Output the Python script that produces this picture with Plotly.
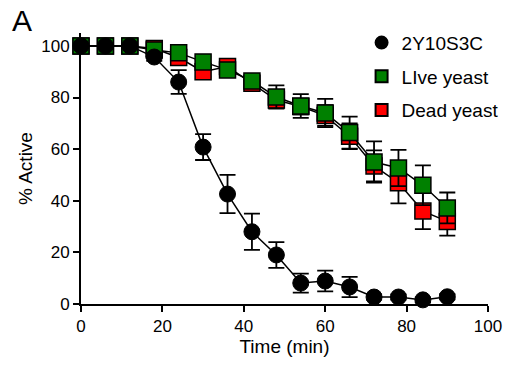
import plotly.graph_objects as go

time = [0, 6, 12, 18, 24, 30, 36, 42, 48, 54, 60, 66, 72, 78, 84, 90]
y_2y = [100, 100, 100, 95.7, 86, 60.8, 42.6, 28, 19, 8.1, 8.9, 6.6, 2.7, 2.7, 1.6, 2.8]
e_2y = [0, 0, 0, 1.5, 4.6, 5, 7.4, 7, 5, 3.7, 4, 3.9, 1, 1, 1, 1]
y_live = [100, 100, 100, 98.4, 97.3, 93.8, 90.7, 86.4, 80.2, 76.7, 74, 66.4, 55, 52.7, 46, 37.2]
e_live = [0, 0, 0, 1, 1.5, 2, 2, 2.5, 4.5, 4.6, 5.5, 6.2, 8, 7, 7.7, 6]
y_dead = [100, 100, 100, 99, 95.5, 90, 92, 85.5, 79, 76.5, 73, 65, 53.5, 47, 36, 32]
e_dead = [0, 0, 0, 1, 1.5, 2, 2, 2, 3, 3, 4, 5, 6, 8, 7, 5.5]
names = ["2Y10S3C", "LIve yeast", "Dead yeast"]

FONT = "Liberation Sans, Arial"
fig = go.Figure()
common_line = dict(color="black", width=1.5)
sq_dead = dict(symbol="square", size=16, color="#ff0000", line=dict(color="black", width=1.5))
sq_live = dict(symbol="square", size=16, color="#008000", line=dict(color="black", width=1.5))
circ = dict(symbol="circle", size=16, color="black", line=dict(color="black", width=1))

fig.add_trace(go.Scatter(
    x=time, y=y_dead, name=names[2], mode="lines+markers", showlegend=False,
    line=common_line, cliponaxis=False, marker=sq_dead,
    error_y=dict(type="data", array=e_dead, color="black", thickness=1.8, width=8)))
fig.add_trace(go.Scatter(
    x=time, y=y_live, name=names[1], mode="lines+markers", showlegend=False,
    line=common_line, cliponaxis=False, marker=sq_live,
    error_y=dict(type="data", array=e_live, color="black", thickness=1.8, width=8)))
fig.add_trace(go.Scatter(
    x=time, y=y_2y, name=names[0], mode="lines+markers", showlegend=False,
    line=common_line, cliponaxis=False, marker=circ,
    error_y=dict(type="data", array=e_2y, color="black", thickness=1.8, width=8)))

# legend entries (markers only)
for nm, mk, rk in [(names[0], circ, 1), (names[1], sq_live, 2), (names[2], sq_dead, 3)]:
    fig.add_trace(go.Scatter(x=[None], y=[None], name=nm, mode="markers", marker=mk,
                             legendrank=rk, legendgroup=nm, showlegend=True))

axis_common = dict(showline=True, linecolor="black", linewidth=2, ticks="outside",
                   ticklen=6, tickwidth=2, tickcolor="black", showgrid=False, zeroline=False,
                   automargin=False,
                   tickfont=dict(family=FONT, size=17, color="black"))
fig.update_xaxes(range=[0, 100], tickvals=[0, 20, 40, 60, 80, 100],
                 title=dict(text="Time (min)", font=dict(family=FONT, size=19, color="black"), standoff=2),
                 **axis_common)
fig.update_yaxes(range=[0, 105], tickvals=[0, 20, 40, 60, 80, 100],
                 title=dict(text="% Active", font=dict(family=FONT, size=19, color="black"), standoff=4),
                 **axis_common)

fig.update_layout(
    width=505, height=365,
    margin=dict(l=81, r=17, t=33, b=61, autoexpand=False),
    plot_bgcolor="white", paper_bgcolor="white",
    font=dict(family=FONT, size=19, color="black"),
    legend=dict(x=0.716, y=0.935, xref="container", yref="container",
                xanchor="left", yanchor="top", bgcolor="rgba(0,0,0,0)",
                font=dict(family=FONT, size=19), itemsizing="constant", tracegroupgap=6,
                itemwidth=30),
)
fig.add_annotation(text="A", xref="paper", yref="paper", x=-0.175, y=1.115,
                   xanchor="left", yanchor="top", showarrow=False,
                   font=dict(family=FONT, size=30, color="black"))

fig.write_html("out.html")
